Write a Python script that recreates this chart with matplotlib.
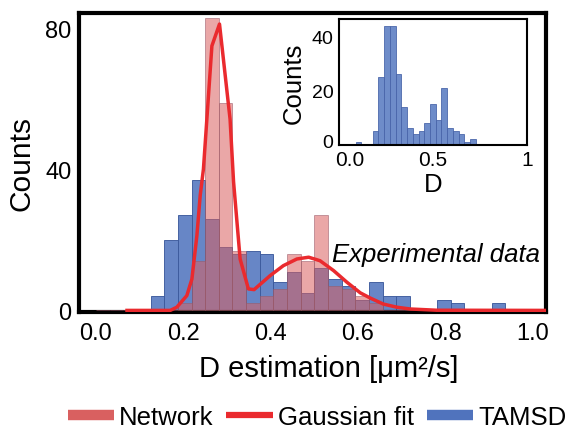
import matplotlib
matplotlib.use("Agg")
import matplotlib.pyplot as plt
import matplotlib.transforms as mtransforms
import numpy as np
from matplotlib.lines import Line2D

plt.rcParams['font.family'] = ['Liberation Sans', 'DejaVu Sans']

# histogram bins of width 1/32 on [0, 1]
bin_edges = np.arange(33) / 32

tamsd_counts = [0, 0, 0, 0, 4, 20, 27, 37, 26, 18, 16, 17, 16, 8, 11, 5,
                12, 9, 7, 3, 8, 4, 4, 0, 0, 3, 2, 0, 0, 2, 0, 0]
network_counts = [0, 0, 0, 0, 0, 0, 2, 14, 83, 59, 17, 2, 4, 6, 16, 14,
                  27, 7, 6, 4, 2, 0, 0, 0, 0, 0, 0, 0, 0, 0, 0, 0]

# gaussian fit as sampled points (D, counts)
fit_d = [0.071, 0.17, 0.185, 0.208, 0.2196, 0.231, 0.2386, 0.246, 0.2654,
         0.2828, 0.307, 0.315, 0.330, 0.349, 0.362, 0.399, 0.429, 0.460,
         0.487, 0.513, 0.544, 0.5745, 0.605, 0.628, 0.658, 0.689, 0.7195,
         0.78, 1.031]
fit_counts = [0, 0, 0.9, 4.2, 8.9, 21.2, 32.6, 40.1, 75.1, 81.3, 54.3, 36.5,
              14.6, 6.1, 5.9, 9.9, 12.7, 14.6, 15.1, 14.1, 11.3, 8.0, 5.0,
              3.5, 1.8, 0.9, 0.4, 0.05, 0]

# inset: TAMSD on its own binning
inset_start = 0.088
inset_width = 0.0304
inset_counts = [1, 0, 0, 5, 25, 44, 44, 26, 14, 6, 4, 5, 8, 15, 9, 21,
                6, 5, 4, 1, 2]
inset_edges = inset_start + inset_width * np.arange(len(inset_counts) + 1)

blue = '#5a7cc1'
pink = '#d96060'
red = '#ea2a2e'

fig = plt.figure(figsize=(5.71, 4.35), dpi=100)
ax = fig.add_axes([0.1375, 0.2809, 0.8192, 0.6874])

ax.bar(bin_edges[:-1], tamsd_counts, width=np.diff(bin_edges), align='edge',
       color=blue, alpha=0.92, edgecolor='#3c5a9c', linewidth=0.7, zorder=2)
ax.bar(bin_edges[:-1], network_counts, width=np.diff(bin_edges), align='edge',
       color=pink, alpha=0.55, edgecolor='#9a5a68', linewidth=0.7, zorder=3)
ax.plot(fit_d, fit_counts, color=red, lw=2.5, zorder=4)

ax.text(0.541, 14.1, 'Experimental data', style='italic', fontsize=18.5,
        ha='left', va='baseline', zorder=5)

ax.set_xlim(-0.04, 1.031)
ax.set_ylim(-0.4, 84.5)
ax.set_xticks([0.0, 0.2, 0.4, 0.6, 0.8, 1.0])
ax.set_xticklabels(['0.0', '0.2', '0.4', '0.6', '0.8', '1.0'])
ax.set_yticks([0, 40, 80])
ax.tick_params(axis='both', length=0, labelsize=17)
ax.tick_params(axis='y', pad=5)
ax.tick_params(axis='x', pad=7)
for s in ax.spines.values():
    s.set_linewidth(3)
ax.set_xlabel('D estimation [μm²/s]', fontsize=21)
ax.xaxis.set_label_coords(0.534, -0.14)
ax.set_ylabel('Counts', fontsize=21.5)
ax.yaxis.set_label_coords(-0.093, 0.5)

# inset histogram
axi = fig.add_axes([0.5937, 0.6651, 0.3298, 0.2889])
axi.bar(inset_edges[:-1], inset_counts, width=np.diff(inset_edges),
        align='edge', color='#6686c6', alpha=0.95, edgecolor='#4763a8',
        linewidth=0.6)
axi.set_xlim(0, 1)
axi.set_ylim(0, 46.5)
axi.set_xticks([0, 0.5, 1])
axi.set_xticklabels(['0.0', '0.5', '1'])
axi.set_yticks([0, 20, 40])
axi.tick_params(axis='both', length=0)
axi.tick_params(axis='x', labelsize=15, pad=4)
axi.tick_params(axis='y', labelsize=14, pad=4)
for s in axi.spines.values():
    s.set_linewidth(1.5)
axi.set_xlabel('D', fontsize=18.5, labelpad=2)
axi.set_ylabel('Counts', fontsize=18.5, labelpad=4)

# nudge the corner labels of the inset apart
lbl_x0 = axi.get_xticklabels()[0]
lbl_x0.set_transform(lbl_x0.get_transform() +
                     mtransforms.ScaledTranslation(8 / 72, 0, fig.dpi_scale_trans))
lbl_y0 = axi.get_yticklabels()[0]
lbl_y0.set_transform(lbl_y0.get_transform() +
                     mtransforms.ScaledTranslation(0, 3 / 72, fig.dpi_scale_trans))

handles = [Line2D([], [], color=pink, lw=7.5, solid_capstyle='butt'),
           Line2D([], [], color=red, lw=4.5, solid_capstyle='butt'),
           Line2D([], [], color='#5073bd', lw=7.5, solid_capstyle='butt')]
fig.legend(handles, ['Network', 'Gaussian fit', 'TAMSD'], loc='center',
           bbox_to_anchor=(0.555, 0.038), ncol=3, frameon=False,
           fontsize=18.5, handlelength=1.8, handletextpad=0.2,
           columnspacing=0.5, borderpad=0, borderaxespad=0)

fig.savefig('out.png', dpi=100)
